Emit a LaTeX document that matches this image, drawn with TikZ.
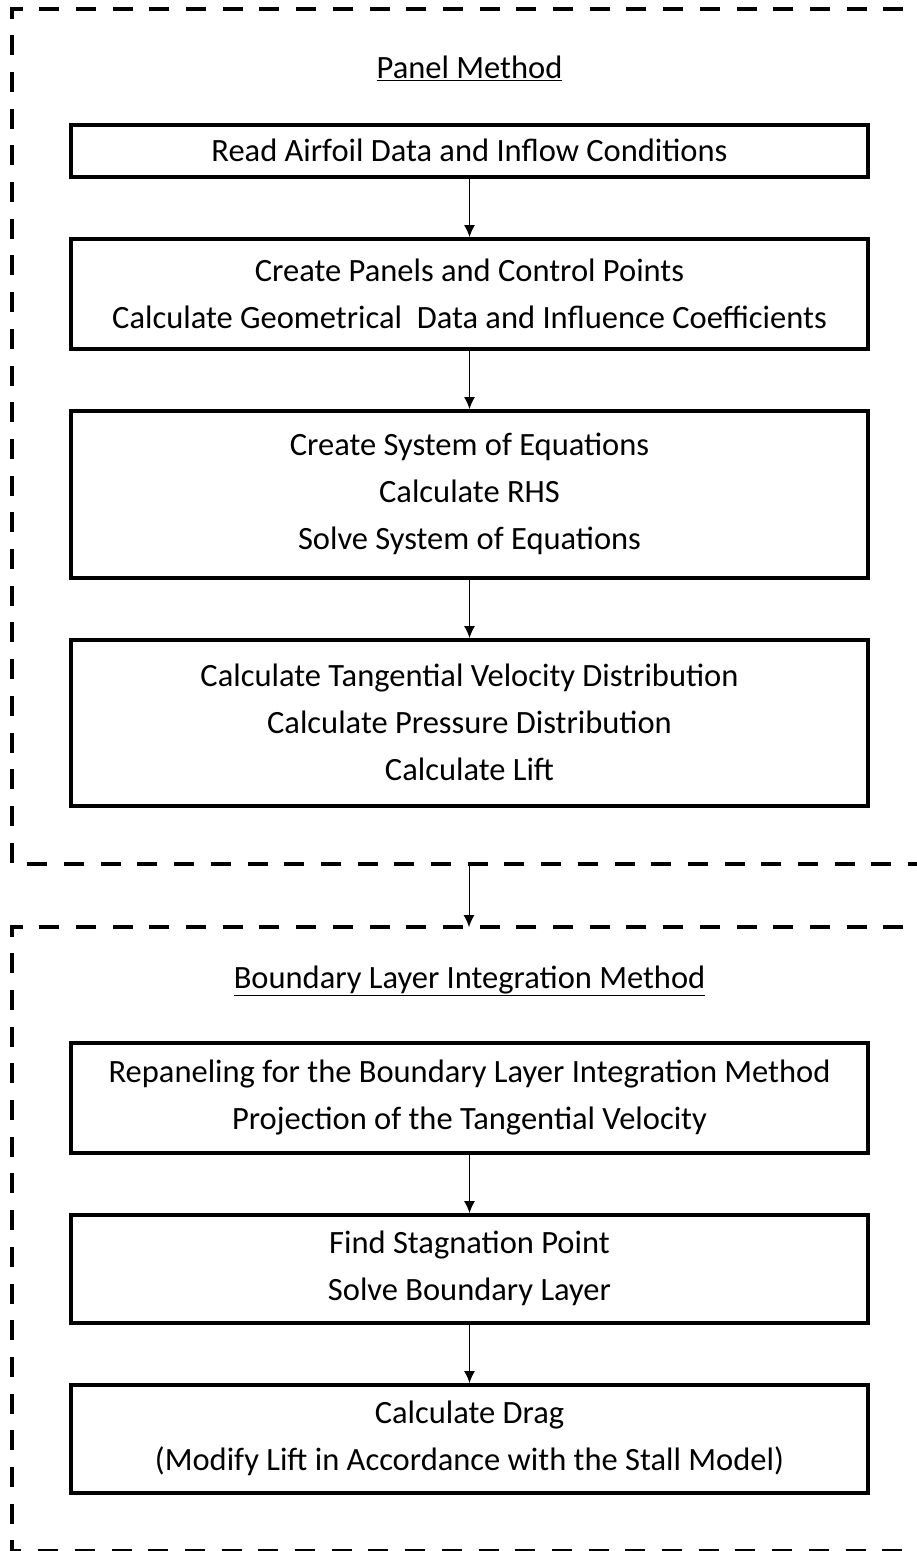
\documentclass[tikz,border=0pt]{standalone}
\usepackage{fontspec}
\setmainfont{Carlito}
\usetikzlibrary{positioning,arrows.meta}
\def\dy{58.5pt}
\tikzstyle{block}=[draw,line width=3.5pt,minimum width=797pt,align=center,inner sep=0pt,
  font=\fontsize{32.5}{47}\selectfont]
\tikzstyle{frame}=[line width=4pt,dash pattern=on 20pt off 16.7pt]
\tikzstyle{title}=[font=\fontsize{32.5}{47}\selectfont]
\newcommand{\newBlock}[4]{\node[block,minimum height=#3,#4](#1){#2};}
\newcommand{\newArrow}[2]{\draw[->] (#1) -- (#2);}

\begin{document}
\begin{tikzpicture}[x=1pt,y=-1pt,node distance=\dy,
    >={Latex[length=12pt,width=11pt]},line width=1pt]
    \useasboundingbox (0,0) rectangle (917,1551);
    % dashed frames, cut off at the right edge
    \draw[frame] (940,9) -- (12,9) -- (12,864) -- (940,864);
    \draw[frame] (940,927) -- (12,927) -- (12,1551) -- (940,1551);
    \coordinate (f1) at (469,864);
    \coordinate (f2) at (469,927);
    % panel method
    \node[title] (pm) at (469.5,68) {\underline{Panel Method}};
    \newBlock{b1}{Read Airfoil Data and Inflow Conditions}{52pt}{anchor=north,at={(469.5,123)}}
    \newBlock{b2}{Create Panels and Control Points\\Calculate Geometrical\ \ Data and Influence Coefficients}{110pt}{below=of b1}
    \newBlock{b3}{Create System of Equations\\Calculate RHS\\Solve System of Equations}{167pt}{below=of b2}
    \newBlock{b4}{Calculate Tangential Velocity Distribution\\Calculate Pressure Distribution\\Calculate Lift}{166pt}{below=of b3}
    \newArrow{b1}{b2}
    \newArrow{b2}{b3}
    \newArrow{b3}{b4}
    \newArrow{f1}{f2}
    % boundary layer integration method
    \node[title] (bl) at (469.5,981) {\underline{Boundary Layer Integration Method}};
    \newBlock{b5}{Repaneling for the Boundary Layer Integration Method\\Projection of the Tangential Velocity}{110pt}{anchor=north,at={(469.5,1041)}}
    \newBlock{b6}{Find Stagnation Point\\Solve Boundary Layer}{108pt}{below=of b5}
    \newBlock{b7}{Calculate Drag\\(Modify Lift in Accordance with the Stall Model)}{108pt}{below=of b6}
    \newArrow{b5}{b6}
    \newArrow{b6}{b7}
\end{tikzpicture}
\end{document}
